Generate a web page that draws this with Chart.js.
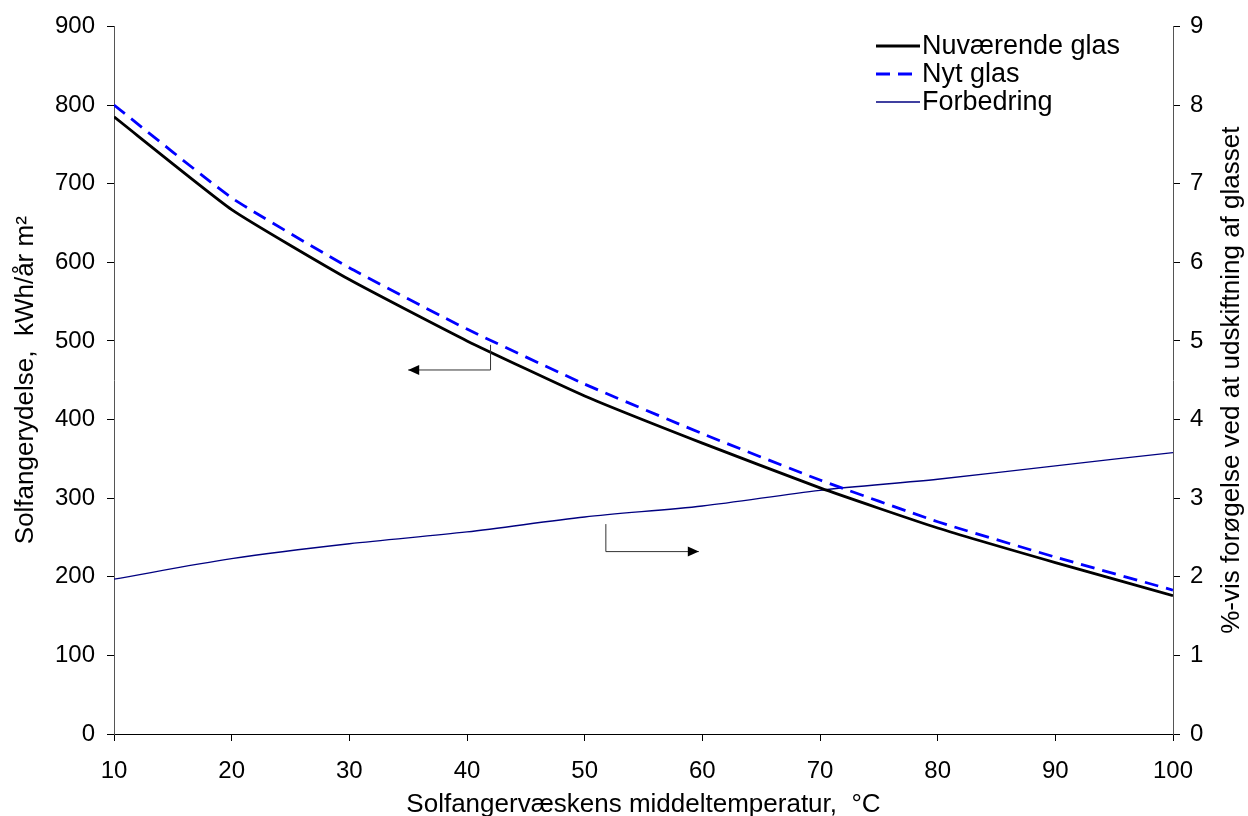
<!DOCTYPE html>
<html>
<head>
<meta charset="utf-8">
<script src="https://cdn.jsdelivr.net/npm/chart.js@4"></script>
<style>
  body { margin: 0; background: #fff; }
  #wrap { width: 1248px; height: 816px; }
</style>
</head>
<body>
<div id="wrap"><canvas id="chart" width="1248" height="816"></canvas></div>
<script>
// temperatures (°C)
const temps = [10, 20, 30, 40, 50, 60, 70, 80, 90, 100];
// yield kWh/år m2
const current = [785, 667, 578, 500, 430, 370, 313, 262, 218, 176];
const newGlass = [800, 682, 593, 515, 445, 382, 323, 270, 225, 183];
// % improvement (right axis)
const improvement = [1.97, 2.23, 2.42, 2.57, 2.76, 2.90, 3.10, 3.24, 3.41, 3.58];

// arrow annotations in data units: [x, y] points, last one gets the head
const arrowLeft = [[42, 495], [42, 463], [35, 463]];
const arrowRight = [[51.8, 267], [51.8, 232], [59.7, 232]];

const FONT = 'Liberation Sans, Arial, sans-serif';

const toXY = (arr) => arr.map((v, i) => ({ x: temps[i], y: v }));

// draws the legend inside the plot, the arrows and the right title
const extras = {
  id: 'extras',
  afterDraw(chart) {
    const ctx = chart.ctx;
    const xs = chart.scales.x, ys = chart.scales.y;
    ctx.save();

    // arrows
    [arrowLeft, arrowRight].forEach(pts => {
      const p = pts.map(([a, b]) => [xs.getPixelForValue(a), ys.getPixelForValue(b)]);
      ctx.strokeStyle = '#333';
      ctx.lineWidth = 1;
      ctx.beginPath();
      ctx.moveTo(p[0][0], p[0][1]);
      for (let i = 1; i < p.length; i++) ctx.lineTo(p[i][0], p[i][1]);
      ctx.stroke();
      const [x1, y1] = p[p.length - 2], [x2, y2] = p[p.length - 1];
      const ang = Math.atan2(y2 - y1, x2 - x1);
      ctx.fillStyle = '#000';
      ctx.beginPath();
      ctx.moveTo(x2, y2);
      ctx.lineTo(x2 - 11 * Math.cos(ang) - 5 * Math.sin(ang), y2 - 11 * Math.sin(ang) + 5 * Math.cos(ang));
      ctx.lineTo(x2 - 11 * Math.cos(ang) + 5 * Math.sin(ang), y2 - 11 * Math.sin(ang) - 5 * Math.cos(ang));
      ctx.closePath();
      ctx.fill();
    });

    // legend
    const lx = 876, ly = 46, gap = 28;
    chart.data.datasets.forEach((ds, i) => {
      const y = ly + i * gap;
      ctx.strokeStyle = ds.borderColor;
      ctx.lineWidth = ds.borderWidth;
      ctx.setLineDash(ds.borderDash || []);
      ctx.beginPath();
      ctx.moveTo(lx, y);
      ctx.lineTo(lx + 44, y);
      ctx.stroke();
      ctx.setLineDash([]);
      ctx.fillStyle = '#000';
      ctx.font = '27px ' + FONT;
      ctx.textBaseline = 'middle';
      ctx.fillText(ds.label, lx + 46, y + 1);
    });

    // right axis title, reading bottom-to-top
    const ca = chart.chartArea;
    ctx.translate(1232, (ca.top + ca.bottom) / 2);
    ctx.rotate(-Math.PI / 2);
    ctx.font = '26px ' + FONT;
    ctx.textAlign = 'center';
    ctx.textBaseline = 'middle';
    ctx.fillText('%-vis forøgelse ved at udskiftning af glasset', 0, 0);
    ctx.restore();
  }
};

new Chart(document.getElementById('chart'), {
  type: 'line',
  data: {
    datasets: [{
      label: 'Nuværende glas',
      data: toXY(current),
      borderColor: '#000000',
      borderWidth: 2.8,
      yAxisID: 'y',
      pointRadius: 0,
      tension: 0.15
    }, {
      label: 'Nyt glas',
      data: toXY(newGlass),
      borderColor: '#0000ff',
      borderWidth: 2.8,
      borderDash: [14, 8],
      yAxisID: 'y',
      pointRadius: 0,
      tension: 0.15
    }, {
      label: 'Forbedring',
      data: toXY(improvement),
      borderColor: '#000080',
      borderWidth: 1.3,
      yAxisID: 'y2',
      pointRadius: 0,
      tension: 0.3
    }]
  },
  plugins: [extras],
  options: {
    responsive: false,
    animation: false,
    layout: { padding: { top: 26, left: 0, right: 0, bottom: 0 } },
    plugins: {
      legend: { display: false },
      tooltip: { enabled: false }
    },
    scales: {
      x: {
        type: 'linear',
        min: 10, max: 100,
        afterFit: (s) => { s.height = 82; },
        ticks: { stepSize: 10, color: '#000', padding: 16, font: { family: FONT, size: 24 } },
        grid: { drawOnChartArea: false, tickLength: 7, color: '#000' },
        border: { color: '#000', width: 1 },
        title: { display: true, text: 'Solfangervæskens middeltemperatur,  °C', color: '#000',
                 font: { family: FONT, size: 26 }, padding: { top: 0, bottom: -4 } }
      },
      y: {
        position: 'left',
        min: 0, max: 900,
        afterFit: (s) => { s.width = 114; },
        ticks: { stepSize: 100, color: '#000', padding: 12, font: { family: FONT, size: 24 } },
        grid: { drawOnChartArea: false, tickLength: 7, color: '#000' },
        border: { color: '#555', width: 1 },
        title: { display: true, text: 'Solfangerydelse,  kWh/år m²', color: '#000',
                 font: { family: FONT, size: 26 }, padding: { top: 10, bottom: 0 } }
      },
      y2: {
        position: 'right',
        min: 0, max: 9,
        afterFit: (s) => { s.width = 75; },
        ticks: { stepSize: 1, color: '#000', padding: 10, font: { family: FONT, size: 24 } },
        grid: { drawOnChartArea: false, tickLength: 7, color: '#000' },
        border: { color: '#555', width: 1 }
      }
    }
  }
});
</script>
</body>
</html>
